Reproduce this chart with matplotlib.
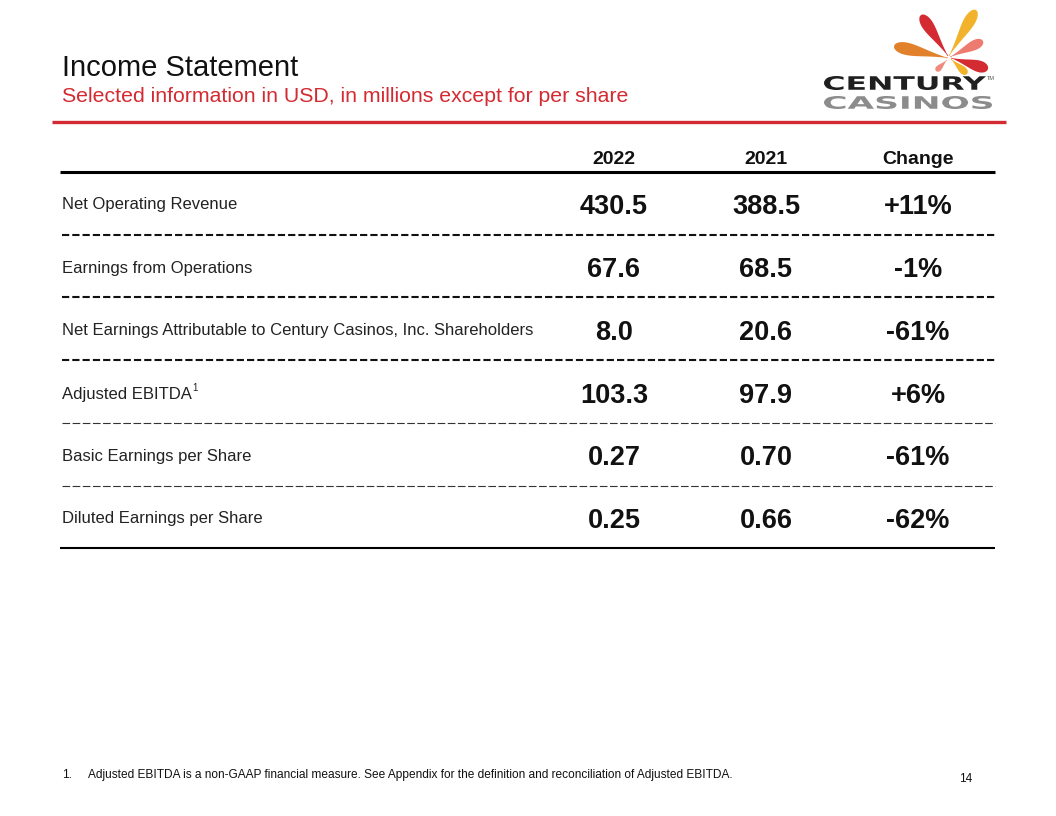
import numpy as np
import matplotlib
matplotlib.use("Agg")
import matplotlib.pyplot as plt
from matplotlib.patches import Polygon, PathPatch
from matplotlib.textpath import TextPath
from matplotlib.font_manager import FontProperties
from matplotlib.transforms import Affine2D

plt.rcParams['font.family'] = ['Liberation Sans', 'DejaVu Sans']
plt.rcParams['lines.scale_dashes'] = False

# ---- data ----
title = "Income Statement"
subtitle = "Selected information in USD, in millions except for per share"
columns = ["2022", "2021", "Change"]
row_labels = ["Net Operating Revenue",
              "Earnings from Operations",
              "Net Earnings Attributable to Century Casinos, Inc. Shareholders",
              "Adjusted EBITDA",
              "Basic Earnings per Share",
              "Diluted Earnings per Share"]
row_notes = ["", "", "", "1", "", ""]
values_2022 = ["430.5", "67.6", "8.0", "103.3", "0.27", "0.25"]
values_2021 = ["388.5", "68.5", "20.6", "97.9", "0.70", "0.66"]
changes = ["+11%", "-1%", "-61%", "+6%", "-61%", "-62%"]
footnote = "Adjusted EBITDA is a non-GAAP financial measure. See Appendix for the definition and reconciliation of Adjusted EBITDA."
page_number = "14"

W, H = 1056, 816
fig = plt.figure(figsize=(W / 100, H / 100), dpi=100)
ax = fig.add_axes([0, 0, 1, 1])
ax.set_xlim(0, W)
ax.set_ylim(H, 0)
ax.axis('off')

RED = '#D42A31'

# title block
ax.text(62, 76, title, fontsize=21, color='#111111', va='baseline', ha='left')
ax.text(62, 102, subtitle, fontsize=15.3, color=RED, va='baseline', ha='left')
ax.plot([52, 1006], [122, 122], color=RED, lw=2.4, solid_capstyle='butt')

# logo petals (teardrop shapes)
def petal(x0, y0, x1, y1, width, color):
    # x0,y0 = thin end (centre), x1,y1 = thick rounded end
    L = np.hypot(x1 - x0, y1 - y0)
    s = np.linspace(0, 1, 100)
    prof = width / 2 * np.clip(np.sin(np.pi * s ** 1.9), 0, None) ** 0.5 * (0.35 + 0.65 * s)
    prof = np.maximum(prof, 0.4 * (1 - s) ** 4)
    xs = np.concatenate([s * L, (s * L)[::-1]])
    ys = np.concatenate([prof, -prof[::-1]])
    ang = np.arctan2(y1 - y0, x1 - x0)
    c, sn = np.cos(ang), np.sin(ang)
    px = x0 + xs * c - ys * sn
    py = y0 + xs * sn + ys * c
    ax.add_patch(Polygon(np.column_stack([px, py]), closed=True, fc=color, ec='none'))

petal(948, 56, 921, 15, 14, '#D42A31')
petal(949, 56, 976, 10, 14, '#F2B22C')
petal(948, 58, 894, 46, 15, '#E1812B')
petal(950, 57, 983, 41, 12, '#EE7B70')
petal(951, 58, 988, 69, 14, '#D42A31')
petal(951, 59, 967, 74, 9, '#F2B22C')
petal(947, 60, 936, 71, 7, '#EE8A7E')

def logo_text(s, x0, x1, ybot, ytop, color, weight):
    fp = FontProperties(family='DejaVu Sans', weight=weight)
    tp = TextPath((0, 0), s, size=10, prop=fp)
    ext = tp.get_extents()
    sx = (x1 - x0) / ext.width
    sy = (ybot - ytop) / ext.height
    tr = Affine2D().translate(-ext.x0, -ext.y0).scale(sx, -sy).translate(x0, ybot)
    ax.add_patch(PathPatch(tr.transform_path(tp), fc=color, ec='none'))

logo_text("CENTURY", 824, 986, 90, 76, '#1f1f1f', 'bold')
logo_text("CASINOS", 824, 992, 109, 96, '#8c8c8c', 'bold')
ax.text(987, 78, "TM", fontsize=4, color='#555555', ha='left', va='center')

# table
col_x = [614, 766, 918]
header_y = 160
for cx, name in zip(col_x, columns):
    ax.text(cx, header_y, name, fontsize=14, fontweight='bold', ha='center', va='center', color='#111111')
ax.plot([60, 995], [172, 172], color='black', lw=2.2, solid_capstyle='butt')

row_y = [205, 268, 331, 394, 456, 519]
sep_y = [235, 297, 360, 423, 486]
for i, (lab, note, a, b, c) in enumerate(zip(row_labels, row_notes, values_2022, values_2021, changes)):
    y = row_y[i]
    t = ax.text(62, y, lab, fontsize=12, color='#222222', ha='left', va='center')
    if note:
        ax.annotate(note, xy=(1, 1), xycoords=t, xytext=(0.5, 2.5), textcoords='offset points',
                    fontsize=7, color='#222222', ha='left', va='top')
    for cx, v in zip(col_x, (a, b, c)):
        ax.text(cx, y + 2, v, fontsize=19.5, fontweight='bold', ha='center', va='center', color='#111111')

for j, y in enumerate(sep_y):
    if j < 3:
        ax.plot([62, 995], [y, y], color='#111111', lw=1.5, ls=(0, (5.2, 2.2)), dash_capstyle='butt')
    else:
        ax.plot([62, 995], [y, y], color='#333333', lw=0.8, ls=(0, (5.5, 1.8)), dash_capstyle='butt')
ax.plot([60, 995], [548, 548], color='black', lw=1.5, solid_capstyle='butt')

# footnote
ax.text(62, 775, "1.", fontsize=8.6, color='#111111', ha='left', va='center')
ax.text(88, 775, footnote, fontsize=8.6, color='#111111', ha='left', va='center')
ax.text(966, 779, page_number, fontsize=8.5, color='#111111', ha='center', va='center')

fig.savefig("out.png", dpi=100)
